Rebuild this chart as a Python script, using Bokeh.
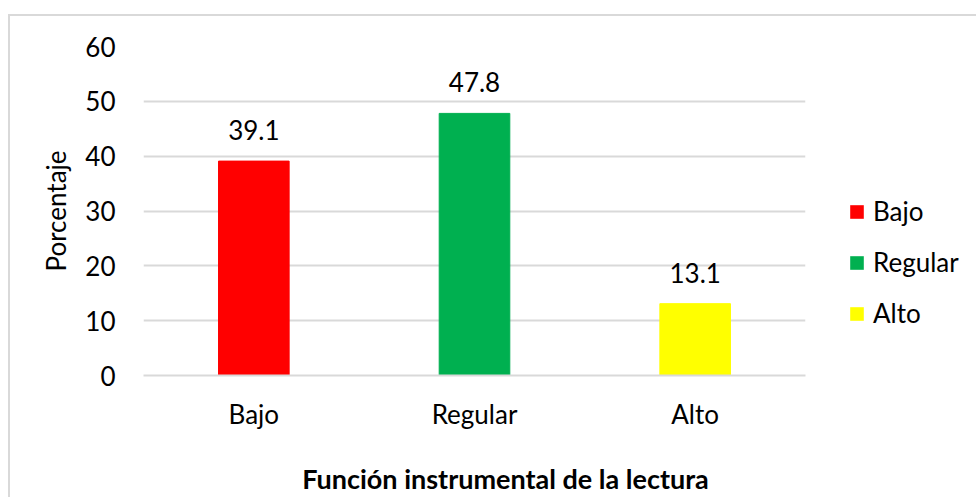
from bokeh.plotting import figure
from bokeh.layouts import row, column
from bokeh.models import ColumnDataSource, FactorRange, Legend, LegendItem, FixedTicker, Range1d, Label
from bokeh.embed import file_html
from bokeh.resources import INLINE
from bokeh.core.properties import value

categories = ["Bajo", "Regular", "Alto"]
percentages = [39.1, 47.8, 13.1]
labels = ["39.1", "47.8", "13.1"]
colors = ["#FF0000", "#00B050", "#FFFF00"]
y_ticks = [0, 10, 20, 30, 40, 50, 60]
x_title_text = "Función instrumental de la lectura"
y_title_text = "Porcentaje"

FONT = "Lato"

src = ColumnDataSource(dict(cat=categories, val=percentages, lab=labels, col=colors))

p = figure(x_range=FactorRange(*categories, range_padding=0), y_range=(0, 60),
           width=800, height=441, output_backend="svg", toolbar_location=None,
           min_border_left=133, min_border_top=30, min_border_bottom=82, min_border_right=5)
p.outline_line_color = None

p.vbar(x="cat", top="val", width=0.32, color="col", source=src)

p.text(x="cat", y="val", text="lab", source=src, text_align="center", text_baseline="middle",
       y_offset=-31, text_font=value(FONT), text_font_size="26px", text_color="#000000")

p.yaxis.ticker = FixedTicker(ticks=y_ticks)
p.ygrid.grid_line_color = "#d9d9d9"
p.ygrid.grid_line_width = 2
p.xgrid.grid_line_color = None

for ax in (p.xaxis[0], p.yaxis[0]):
    ax.major_tick_line_color = None
    ax.minor_tick_line_color = None
    ax.major_label_text_font = FONT
    ax.major_label_text_font_size = "26px"
    ax.major_label_text_color = "#000000"
    ax.axis_label_text_font = FONT
    ax.axis_label_text_color = "#000000"
    ax.axis_label_text_font_style = "normal"

p.yaxis.axis_line_color = None
p.yaxis.major_label_standoff = 22
p.yaxis.axis_label = y_title_text
p.yaxis.axis_label_text_font_size = "26px"
p.yaxis.axis_label_standoff = 10

p.xaxis.axis_line_color = "#d9d9d9"
p.xaxis.axis_line_width = 2
p.xaxis.major_label_standoff = 16

# legend panel (separate figure so the legend is not clipped by the bar frame)
q = figure(width=166, height=441, output_backend="svg", toolbar_location=None,
           x_range=Range1d(0, 1), y_range=Range1d(0, 1), x_axis_type=None, y_axis_type=None,
           min_border=0)
q.outline_line_color = None
q.xgrid.visible = False
q.ygrid.visible = False
items = []
for c, col in zip(categories, colors):
    # zero-size swatch carrier: only its legend entry is visible
    rr = q.vbar(x=[0.5], top=[0], bottom=0, width=0, fill_color=col, line_color=None)
    items.append(LegendItem(label=c, renderers=[rr]))
legend = Legend(items=items, location=(38, 46), orientation="vertical",
                glyph_width=17, glyph_height=17, label_standoff=8, spacing=19,
                label_text_font=FONT, label_text_font_size="26px", label_text_color="#000000",
                border_line_color=None, background_fill_alpha=0, padding=0, margin=0)
q.add_layout(legend, "center")

# strip below holding the category-axis title, centred on the whole chart
t = figure(width=966, height=40, output_backend="svg", toolbar_location=None,
           x_range=Range1d(0, 966), y_range=Range1d(0, 40), x_axis_type=None, y_axis_type=None,
           min_border=0)
t.outline_line_color = None
t.xgrid.visible = False
t.ygrid.visible = False
t.add_layout(Label(x=495, y=19, text=x_title_text, text_align="center", text_baseline="middle",
                   text_font=FONT, text_font_size="27px", text_font_style="bold",
                   text_color="#000000"))

layout = column(row(p, q, spacing=0), t, spacing=0)
layout.styles = {"border-top": "2px solid #d9d9d9", "border-left": "2px solid #d9d9d9",
                 "margin-top": "14px", "margin-left": "8px"}

open("out.html", "w").write(file_html(layout, INLINE))
